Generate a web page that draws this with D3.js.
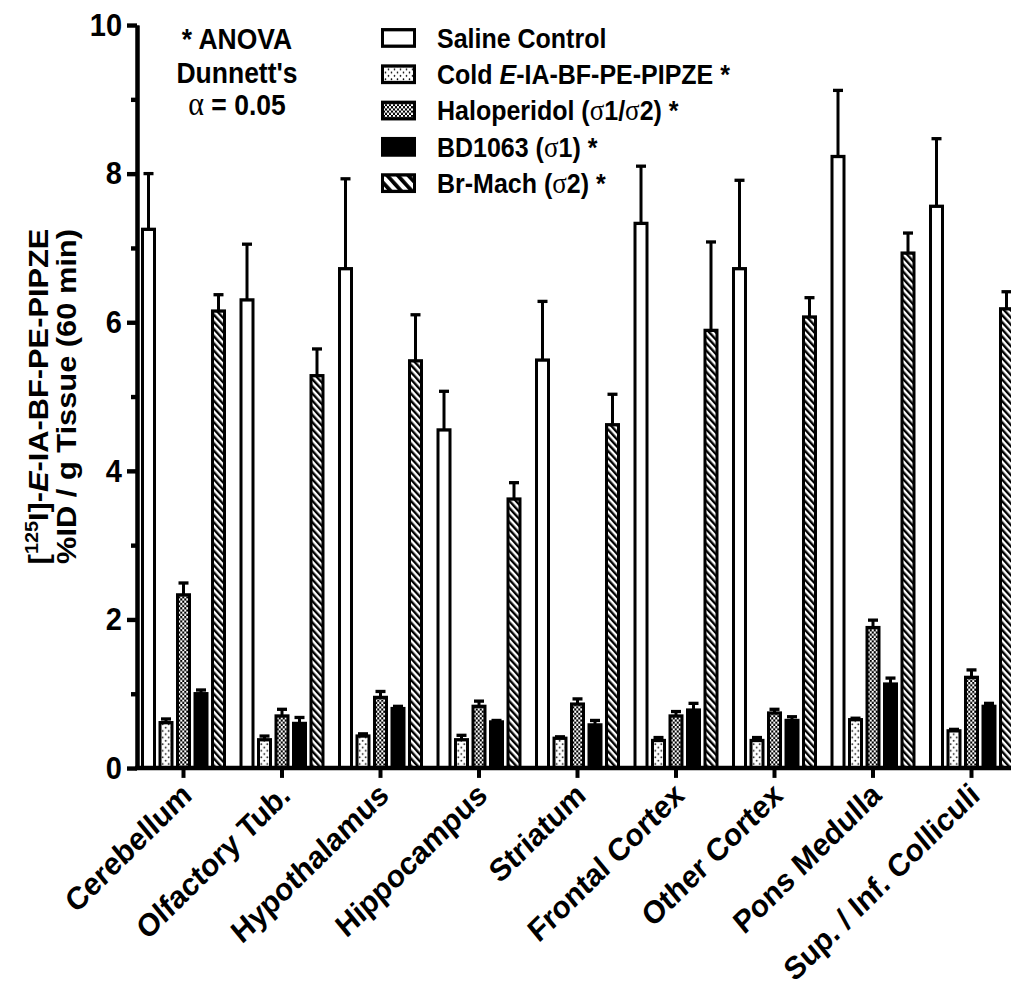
<!DOCTYPE html>
<html>
<head>
<meta charset="utf-8">
<script src="https://cdn.jsdelivr.net/npm/d3@7"></script>
<style>
    body { margin: 0; background: #fff; }
    svg text { font-family: "Liberation Sans", Arial, sans-serif; font-weight: bold; fill: #000; }
</style>
</head>
<body>
<script>
// brain regions
const regions = ["Cerebellum", "Olfactory Tub.", "Hypothalamus", "Hippocampus", "Striatum",
    "Frontal Cortex", "Other Cortex", "Pons Medulla", "Sup. / Inf. Colliculi"];

// means and SEM for each treatment group
const saline = [7.25, 6.30, 6.72, 4.55, 5.49, 7.33, 6.72, 8.23, 7.56];
const salineErr = [0.75, 0.75, 1.21, 0.52, 0.79, 0.77, 1.19, 0.89, 0.91];
const cold = [0.61, 0.38, 0.43, 0.38, 0.40, 0.37, 0.37, 0.65, 0.50];
const coldErr = [0.05, 0.05, 0.03, 0.06, 0.02, 0.04, 0.04, 0.02, 0.02];
const halo = [2.33, 0.70, 0.95, 0.83, 0.86, 0.70, 0.74, 1.89, 1.22];
const haloErr = [0.16, 0.09, 0.08, 0.07, 0.07, 0.06, 0.05, 0.10, 0.10];
const bd1063 = [1.00, 0.60, 0.80, 0.62, 0.58, 0.78, 0.64, 1.13, 0.83];
const bd1063Err = [0.05, 0.08, 0.03, 0.02, 0.06, 0.09, 0.05, 0.08, 0.04];
const brMach = [6.15, 5.28, 5.48, 3.62, 4.62, 5.89, 6.07, 6.93, 6.18];
const brMachErr = [0.22, 0.36, 0.62, 0.22, 0.41, 1.19, 0.26, 0.27, 0.23];

const seriesKeys = ["saline", "cold", "halo", "bd", "br"];
const yTicks = [0, 2, 4, 6, 8, 10];
const yMinorTicks = [1, 3, 5, 7, 9];

let seriesValues = { saline: saline, cold: cold, halo: halo, bd: bd1063, br: brMach };
let seriesErrors = { saline: salineErr, cold: coldErr, halo: haloErr, bd: bd1063Err, br: brMachErr };
let seriesFill = { saline: "#fff", cold: "url(#dots)", halo: "url(#checker)", bd: "#000", br: "url(#stripes)" };
let legendFill = { saline: "#fff", cold: "url(#dots)", halo: "url(#checker)", bd: "#000", br: "url(#stripesBig)" };

let wSvg = 1011;
let hSvg = 990;
let stretch = 1.1; // the figure is a bit taller than wide
let axisX = 137;
let baseY = 768 / stretch;
let topY = 25 / stretch;

let svg = d3.select("body").append("svg").attr("width", wSvg).attr("height", hSvg);
svg.append("rect").attr("width", wSvg).attr("height", hSvg).attr("fill", "#fff");

// fill patterns
let defs = svg.append("defs");
let pDots = defs.append("pattern").attr("id", "dots").attr("patternUnits", "userSpaceOnUse")
    .attr("width", 6).attr("height", 6);
pDots.append("rect").attr("width", 6).attr("height", 6).attr("fill", "#fff");
pDots.append("circle").attr("cx", 1.5).attr("cy", 1.5).attr("r", 0.8).attr("fill", "#000");
pDots.append("circle").attr("cx", 4.5).attr("cy", 4.5).attr("r", 0.8).attr("fill", "#000");

let pChecker = defs.append("pattern").attr("id", "checker").attr("patternUnits", "userSpaceOnUse")
    .attr("width", 4).attr("height", 4);
pChecker.append("rect").attr("width", 4).attr("height", 4).attr("fill", "#000");
pChecker.append("rect").attr("x", 0).attr("y", 0).attr("width", 2).attr("height", 2).attr("fill", "#fff");
pChecker.append("rect").attr("x", 2).attr("y", 2).attr("width", 2).attr("height", 2).attr("fill", "#fff");

function stripePattern(id, gap, thick) {
    let p = defs.append("pattern").attr("id", id).attr("patternUnits", "userSpaceOnUse")
        .attr("width", gap).attr("height", gap).attr("patternTransform", "rotate(-45)");
    p.append("rect").attr("width", gap).attr("height", gap).attr("fill", "#fff");
    p.append("rect").attr("width", thick).attr("height", gap).attr("fill", "#000");
}
stripePattern("stripes", 4.6, 2.3);
stripePattern("stripesBig", 7.5, 3.6);

let g = svg.append("g").attr("transform", `scale(1,${stretch})`);

// scales
let x = d3.scaleBand().domain(regions).range([134.25, 1020.75]).padding(0);
let xInner = d3.scaleBand().domain(seriesKeys).range([0, x.bandwidth()])
    .paddingInner(0.143).paddingOuter(0.386);
let y = d3.scaleLinear().domain([0, 10]).range([baseY, topY]);

// bars
let barGroups = g.append("g").selectAll("g")
    .data(regions)
    .join("g")
    .attr("transform", (d) => `translate(${x(d)},0)`);

let cells = barGroups.selectAll("g")
    .data((d, i) => seriesKeys.map((k) => ({ key: k, v: seriesValues[k][i], e: seriesErrors[k][i] })))
    .join("g");

cells.append("rect")
    .attr("x", (d) => xInner(d.key) + 1.5)
    .attr("width", xInner.bandwidth() - 3)
    .attr("y", (d) => y(d.v))
    .attr("height", (d) => y(0) - y(d.v))
    .attr("fill", (d) => seriesFill[d.key])
    .attr("stroke", "#000")
    .attr("stroke-width", 3);

// error bars, upper half only
cells.append("line")
    .attr("x1", (d) => xInner(d.key) + xInner.bandwidth() / 2)
    .attr("x2", (d) => xInner(d.key) + xInner.bandwidth() / 2)
    .attr("y1", (d) => y(d.v))
    .attr("y2", (d) => y(d.v + d.e))
    .attr("stroke", "#000")
    .attr("stroke-width", 3);
cells.append("line")
    .attr("x1", (d) => xInner(d.key) + xInner.bandwidth() / 2 - 5)
    .attr("x2", (d) => xInner(d.key) + xInner.bandwidth() / 2 + 5)
    .attr("y1", (d) => y(d.v + d.e))
    .attr("y2", (d) => y(d.v + d.e))
    .attr("stroke", "#000")
    .attr("stroke-width", 3);

// y axis
let yAxis = g.append("g").attr("transform", `translate(${axisX},0)`)
    .call(d3.axisLeft(y).tickValues(yTicks).tickSize(10).tickSizeOuter(0).tickPadding(5));
yAxis.append("g")
    .call(d3.axisLeft(y).tickValues(yMinorTicks).tickSize(6).tickSizeOuter(0).tickFormat(""));
yAxis.selectAll("path, line").attr("stroke", "#000").attr("stroke-width", 4);
yAxis.selectAll("text").attr("font-size", 29).attr("fill", "#000")
    .style("font-family", "'Liberation Sans', Arial, sans-serif").style("font-weight", "bold");

// x axis
let xAxis = g.append("g").attr("transform", `translate(0,${baseY})`)
    .call(d3.axisBottom(x).tickSize(9).tickSizeOuter(0).tickFormat(""));
xAxis.select(".domain").remove();
xAxis.selectAll("line").attr("stroke", "#000").attr("stroke-width", 4);
g.append("line")
    .attr("x1", axisX - 2).attr("x2", wSvg)
    .attr("y1", baseY).attr("y2", baseY)
    .attr("stroke", "#000").attr("stroke-width", 4);

g.append("g").selectAll("text")
    .data(regions)
    .join("text")
    .attr("transform", (d) => `translate(${x(d) + x.bandwidth() / 2 + 10},${baseY + 27}) rotate(-42)`)
    .attr("text-anchor", "end")
    .attr("font-size", 29)
    .text((d) => d);

// y axis title
let yTitle = g.append("g").attr("transform", `translate(0,${(y(0) + y(10)) / 2})`);
let line1 = yTitle.append("text").attr("transform", "translate(48,0) rotate(-90)")
    .attr("text-anchor", "middle").attr("font-size", 28);
line1.append("tspan").text("[");
line1.append("tspan").attr("font-size", 18).attr("dy", -10).text("125");
line1.append("tspan").attr("dy", 10).text("I]-");
line1.append("tspan").attr("font-style", "italic").text("E");
line1.append("tspan").text("-IA-BF-PE-PIPZE");
yTitle.append("text").attr("transform", "translate(76,0) rotate(-90)")
    .attr("text-anchor", "middle").attr("font-size", 28)
    .text("%ID / g Tissue (60 min)");

// statistics note
let note = g.append("g").attr("transform", "translate(237,0)");
note.append("text").attr("y", 45).attr("text-anchor", "middle").attr("font-size", 26.5).text("* ANOVA");
note.append("text").attr("y", 75.5).attr("text-anchor", "middle").attr("font-size", 26.5).text("Dunnett's");
let alphaText = note.append("text").attr("y", 105).attr("text-anchor", "middle").attr("font-size", 26.5);
alphaText.append("tspan").style("font-family", "'Liberation Serif', serif").style("font-weight", "normal")
    .attr("font-size", 30).text("\u03b1");
alphaText.append("tspan").text(" = 0.05");

// legend
let legendLabels = {
    saline: [["Saline Control", ""]],
    cold: [["Cold ", ""], ["E", "i"], ["-IA-BF-PE-PIPZE *", ""]],
    halo: [["Haloperidol (", ""], ["\u03c3", "s"], ["1/", ""], ["\u03c3", "s"], ["2) *", ""]],
    bd: [["BD1063 (", ""], ["\u03c3", "s"], ["1) *", ""]],
    br: [["Br-Mach (", ""], ["\u03c3", "s"], ["2) *", ""]]
};
let legend = g.append("g").selectAll("g")
    .data(seriesKeys)
    .join("g")
    .attr("transform", (d, i) => `translate(381,${34.5 + i * 33})`);
legend.append("rect")
    .attr("x", 1.5).attr("y", -7.5)
    .attr("width", 32).attr("height", 15)
    .attr("fill", (d) => legendFill[d])
    .attr("stroke", "#000").attr("stroke-width", 3);
let legendText = legend.append("text").attr("x", 56).attr("y", 9).attr("font-size", 25);
legendText.each(function (d) {
    let t = d3.select(this);
    legendLabels[d].forEach((part) => {
        let span = t.append("tspan").text(part[0]);
        if (part[1] === "i") span.attr("font-style", "italic");
        if (part[1] === "s") span.style("font-family", "'Liberation Serif', serif").style("font-weight", "normal")
            .attr("font-size", 27);
    });
});
</script>
</body>
</html>
